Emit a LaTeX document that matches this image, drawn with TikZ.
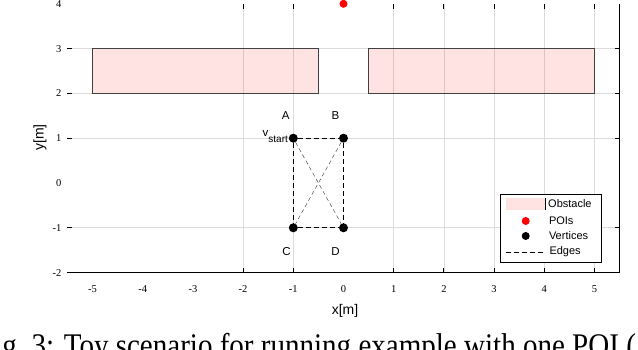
\documentclass[tikz,border=0pt]{standalone}
\usepackage{fontspec}
\setmainfont{Liberation Serif}
\setsansfont{Liberation Sans}
\usepackage{tikz}
\usetikzlibrary{positioning}
\definecolor{obstred}{HTML}{FF0000}
\definecolor{obstedge}{HTML}{404040}
\definecolor{gridgray}{HTML}{DCDCDC}
\definecolor{poired}{HTML}{FF0000}
\tikzset{
  obstacle/.style = {draw=obstedge, fill=obstred, fill opacity=0.11, draw opacity=1, line width=0.8pt},
  gridline/.style = {draw=gridgray, line width=0.6pt},
  axisline/.style = {draw=black, line width=0.9pt},
  tickmark/.style = {draw=black, line width=0.9pt},
  ticklbl/.style  = {font=\fontsize{10.5}{10.5}\selectfont, inner sep=0pt},
  axlbl/.style    = {font=\sffamily\fontsize{14}{14}\selectfont, inner sep=0pt},
  vertex/.style   = {circle, fill=black, inner sep=0pt, minimum size=9pt},
  poi/.style      = {circle, fill=poired, inner sep=0pt, minimum size=8pt},
  vlbl/.style     = {font=\sffamily\fontsize{11.5}{11.5}\selectfont, inner sep=0pt},
  edge/.style     = {draw=black, line width=0.6pt, dash pattern=on 5pt off 3pt},
  diag/.style     = {draw=black!75, line width=0.45pt, dash pattern=on 4pt off 3pt},
  legbox/.style   = {rectangle, draw=black, fill=white, line width=0.7pt, inner sep=0pt},
  legtxt/.style   = {font=\sffamily\fontsize{11}{11}\selectfont, inner sep=0pt, anchor=west},
  caption/.style  = {font=\fontsize{33}{33}\selectfont, inner sep=0pt, anchor=base west},
}

\begin{document}
\begin{tikzpicture}[x=50.2pt, y=44.8pt]
  \useasboundingbox (-6.843,-3.728) rectangle (5.867,4.085);

  \foreach \gx in {-2,-1,1,2,3,4,5}
    \draw[gridline] (\gx,-2) -- (\gx,4);
  \foreach \gy in {-1,1,2,3}
    \draw[gridline] (-5.5,\gy) -- (5.5,\gy);

  \draw[obstacle] (-5,2) rectangle (-0.5,3);
  \draw[obstacle] (0.5,2) rectangle (5,3);

  \foreach \gx in {-2,-1,1,2,3,4,5} {
    \draw[tickmark] (\gx,-2) -- ++(0,5pt);
    \draw[tickmark] (\gx,4) -- ++(0,-5pt);
  }
  \foreach \gy in {-1,1,2,3} {
    \draw[tickmark] (-5.5,\gy) -- ++(5pt,0);
    \draw[tickmark] (5.5,\gy) -- ++(-5pt,0);
  }
  \draw[axisline] (-5.5,-2) -- (5.5,-2) -- (5.5,4);

  \foreach \gx [count=\i] in {-5,...,5}
    \node[ticklbl] (xt\i) at (\gx,-2.366) {\gx};
  \foreach \gy [count=\i] in {-2,...,4}
    \node[ticklbl, anchor=east] (yt\i) at (-5.615,\gy) {\gy};
  \node[axlbl] (xlab) at (0.03,-2.857) {x[m]};
  \node[axlbl, rotate=90] (ylab) at (-6.046,1.016) {y[m]};

  \node[poi] (poi) at (0,4) {};
  \node[vertex] (A) at (-1,1) {};
  \node[vertex] (B) at (0,1) {};
  \node[vertex] (C) at (-1,-1) {};
  \node[vertex] (D) at (0,-1) {};

  \draw[edge] (A) -- (B);
  \draw[edge] (A) -- (C);
  \draw[edge] (B) -- (D);
  \draw[edge] (C) -- (D);
  \draw[diag] (A) -- (D);
  \draw[diag] (B) -- (C);

  \node[vlbl, above=13.4pt of A, xshift=-7.7pt] (lblA) {A};
  \node[vlbl, above=13.4pt of B, xshift=-8pt] (lblB) {B};
  \node[vlbl, below=15.2pt of C, xshift=-6.7pt] (lblC) {C};
  \node[vlbl, below=15.2pt of D, xshift=-8pt] (lblD) {D};
  \node[vlbl, left=0.5pt of A, yshift=2pt] (vstart) {v\raisebox{-6pt}{\fontsize{10}{10}\selectfont start}};

  \node[legbox, minimum width=100.3pt, minimum height=68pt] (legend) at (4.131,-1.011) {};
  \node[rectangle, fill=obstred, fill opacity=0.11, inner sep=0pt,
        minimum width=40pt, minimum height=12pt] (swobst) at (3.63,-0.469) {};
  \draw[line width=0.9pt] (swobst.north east) -- (swobst.south east);
  \node[poi] (swpoi) at (3.63,-0.848) {};
  \node[vertex, minimum size=8pt] (swvert) at (3.63,-1.183) {};
  \coordinate (swedgeL) at (3.231,-1.540);
  \coordinate (swedgeR) at (3.988,-1.540);
  \draw[edge] (swedgeL) -- (swedgeR);
  \node[legtxt] (legobst) at (4.074,-0.469) {Obstacle};
  \node[legtxt] (legpoi) at (4.09,-0.848) {POIs};
  \node[legtxt] (legvert) at (4.09,-1.183) {Vertices};
  \node[legtxt] (legedge) at (4.10,-1.540) {Edges};

  \node[caption] (cap) at (-7.28,-3.884) {\scalebox{0.88}[1]{Fig.~3: Toy scenario for running example with one POI (}};
\end{tikzpicture}
\end{document}
